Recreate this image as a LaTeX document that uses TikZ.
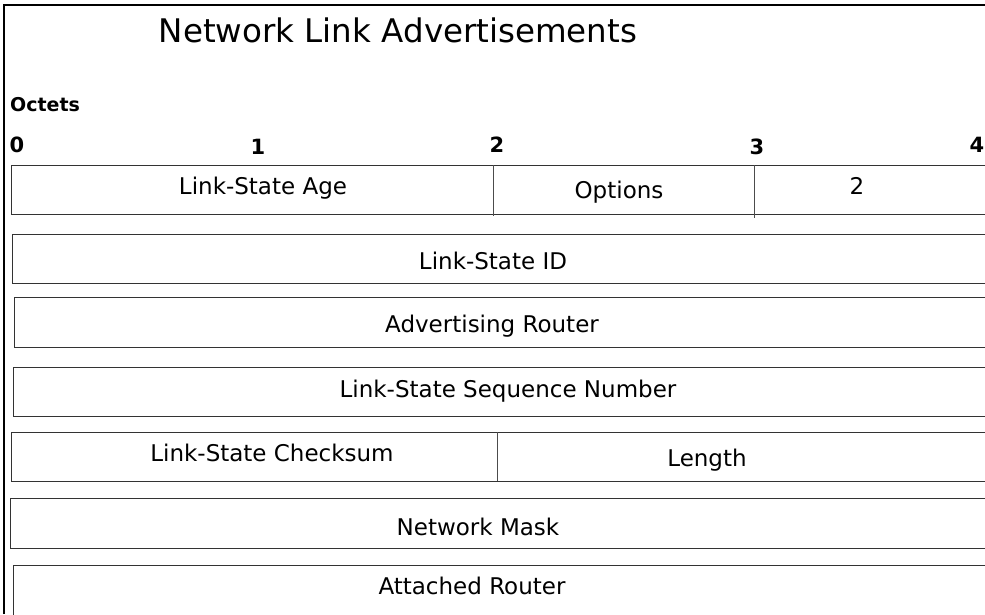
\documentclass[tikz,border=0pt]{standalone}
\usepackage{fontspec}
\setmainfont{DejaVu Sans}
\begin{document}
\begin{tikzpicture}[x=1pt,y=-1pt,
  field/.style={draw=black!80, line width=1pt, inner sep=0pt, anchor=north west},
  sep/.style={draw=black!70, line width=0.8pt},
  lbl/.style={inner sep=0pt, font=\fontsize{23}{23}\selectfont},
  octet/.style={inner sep=0pt, font=\fontsize{21}{21}\selectfont\bfseries},
  frame/.style={line width=2.4pt, black}]
\useasboundingbox (0,0) rectangle (985,614);
% frame
\coordinate (ftl) at (4,5);
\coordinate (fbl) at (4,614);
\coordinate (ftr) at (985,5);
\draw[frame] (fbl) -- (ftl) -- (ftr);
% title and octet labels
\node[inner sep=0pt, font=\fontsize{32.5}{32.5}\selectfont] (title) at (398,30) {Network Link Advertisements};
\node[inner sep=0pt, anchor=west, font=\fontsize{19}{19}\selectfont\bfseries] (oct) at (10,105) {Octets};
\node[octet] (o0) at (17,145) {0};
\node[octet] (o1) at (258,147) {1};
\node[octet] (o2) at (497,145) {2};
\node[octet] (o3) at (757,147) {3};
\node[octet] (o4) at (977,145) {4};
% rows
\node[field, minimum width=990pt, minimum height=49pt] (r1) at (11,165) {};
\node[field, minimum width=990pt, minimum height=49pt] (r2) at (12,234) {};
\node[field, minimum width=990pt, minimum height=50pt] (r3) at (14,297) {};
\node[field, minimum width=990pt, minimum height=49pt] (r4) at (13,367) {};
\node[field, minimum width=990pt, minimum height=49pt] (r5) at (11,432) {};
\node[field, minimum width=990pt, minimum height=50pt] (r6) at (10,498) {};
\node[field, minimum width=990pt, minimum height=60pt] (r7) at (13,565) {};
% dividers
\coordinate (d1t) at (493,165); \coordinate (d1b) at (493,216);
\coordinate (d2t) at (754,165); \coordinate (d2b) at (754,218);
\coordinate (d3t) at (497,432); \coordinate (d3b) at (497,481);
\draw[sep] (d1t) -- (d1b);
\draw[sep] (d2t) -- (d2b);
\draw[sep] (d3t) -- (d3b);
% labels
\node[lbl] (age) at (263,188) {Link-State Age};
\node[lbl] (opt) at (619,192) {Options};
\node[lbl] (two) at (857,186) {2};
\node[lbl] (lsid) at (493,261) {Link-State ID};
\node[lbl] (adv) at (492,326) {Advertising Router};
\node[lbl] (seq) at (508,391) {Link-State Sequence Number};
\node[lbl] (cks) at (272,453) {Link-State Checksum};
\node[lbl] (len) at (707,460) {Length};
\node[lbl] (mask) at (478,527) {Network Mask};
\node[lbl] (att) at (472,586) {Attached Router};
\end{tikzpicture}
\end{document}
